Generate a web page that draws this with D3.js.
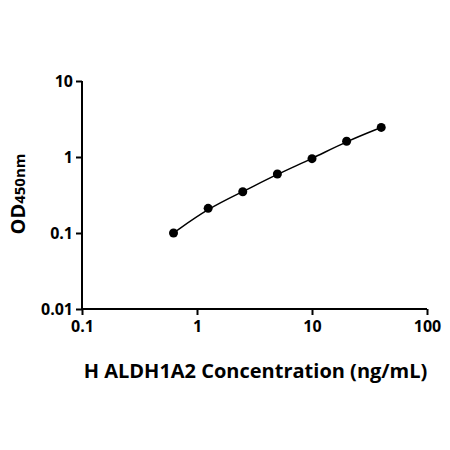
<!DOCTYPE html>
<html>
<head>
    <title></title>
    <script src="https://cdn.jsdelivr.net/npm/d3@7"></script>
    <style>
        body{ margin: 0; background: #ffffff; }
        .tick text{
            font-family: "Open Sans", sans-serif;
            font-weight: bold;
            font-size: 16px;
            fill: #000000;
        }
        .title{
            font-family: "Open Sans", sans-serif;
            font-weight: bold;
            font-size: 20px;
            fill: #000000;
        }
    </style>
</head>
<body>

<script type="text/javascript">

    var concentrations = [0.625, 1.25, 2.5, 5, 10, 20, 40],
        odValues = [0.1, 0.211, 0.349, 0.597, 0.95, 1.61, 2.45],
        xTicks = [0.1, 1, 10, 100],
        yTicks = [0.01, 0.1, 1, 10],
        w = 450,
        h = 450;

    var svg = d3.select("body")
            .append("svg")
            .attr("width", w)
            .attr("height", h);

    var x = d3.scaleLog().domain([0.1, 100]).range([82, 427]);
    var y = d3.scaleLog().domain([0.01, 10]).range([309, 81]);

    var xAxis = svg.append("g")
            .attr("transform", "translate(0,309)")
            .call(d3.axisBottom(x).tickValues(xTicks).tickFormat(d3.format("~g")).tickSize(6).tickPadding(6));

    var yAxis = svg.append("g")
            .attr("transform", "translate(82,0)")
            .call(d3.axisLeft(y).tickValues(yTicks).tickFormat(d3.format("~g")).tickSize(6).tickPadding(3));

    svg.selectAll(".domain").attr("stroke-width", 2).attr("stroke", "#000");
    svg.selectAll(".tick line").attr("stroke-width", 2).attr("stroke", "#000");
    xAxis.selectAll(".domain").attr("d", "M82,0H427");
    yAxis.selectAll(".domain").attr("d", "M0,309V81");

    var points = concentrations.map(function(c, i){ return [c, odValues[i]]; });

    // fitted curve through the standards
    svg.append("path")
            .datum(points)
            .attr("fill", "none")
            .attr("stroke", "#000")
            .attr("stroke-width", 1.5)
            .attr("d", d3.line()
                .curve(d3.curveBasis)
                .x(function(d){ return x(d[0]); })
                .y(function(d){ return y(d[1]); }));

    svg.selectAll("circle")
            .data(points)
            .enter()
            .append("circle")
            .attr("cx", function(d){ return x(d[0]); })
            .attr("cy", function(d){ return y(d[1]); })
            .attr("r", 4.5)
            .attr("fill", "#000");

    svg.append("text")
            .classed("title", true)
            .attr("x", (82 + 427) / 2 + 1)
            .attr("y", 378)
            .attr("text-anchor", "middle")
            .text("H ALDH1A2 Concentration (ng/mL)");

    var yTitle = svg.append("text")
            .classed("title", true)
            .attr("transform", "translate(25,194) rotate(-90)")
            .attr("text-anchor", "middle");
    yTitle.append("tspan").text("OD");
    yTitle.append("tspan").attr("font-size", "15px").text("450nm");
</script>
</body>
</html>
